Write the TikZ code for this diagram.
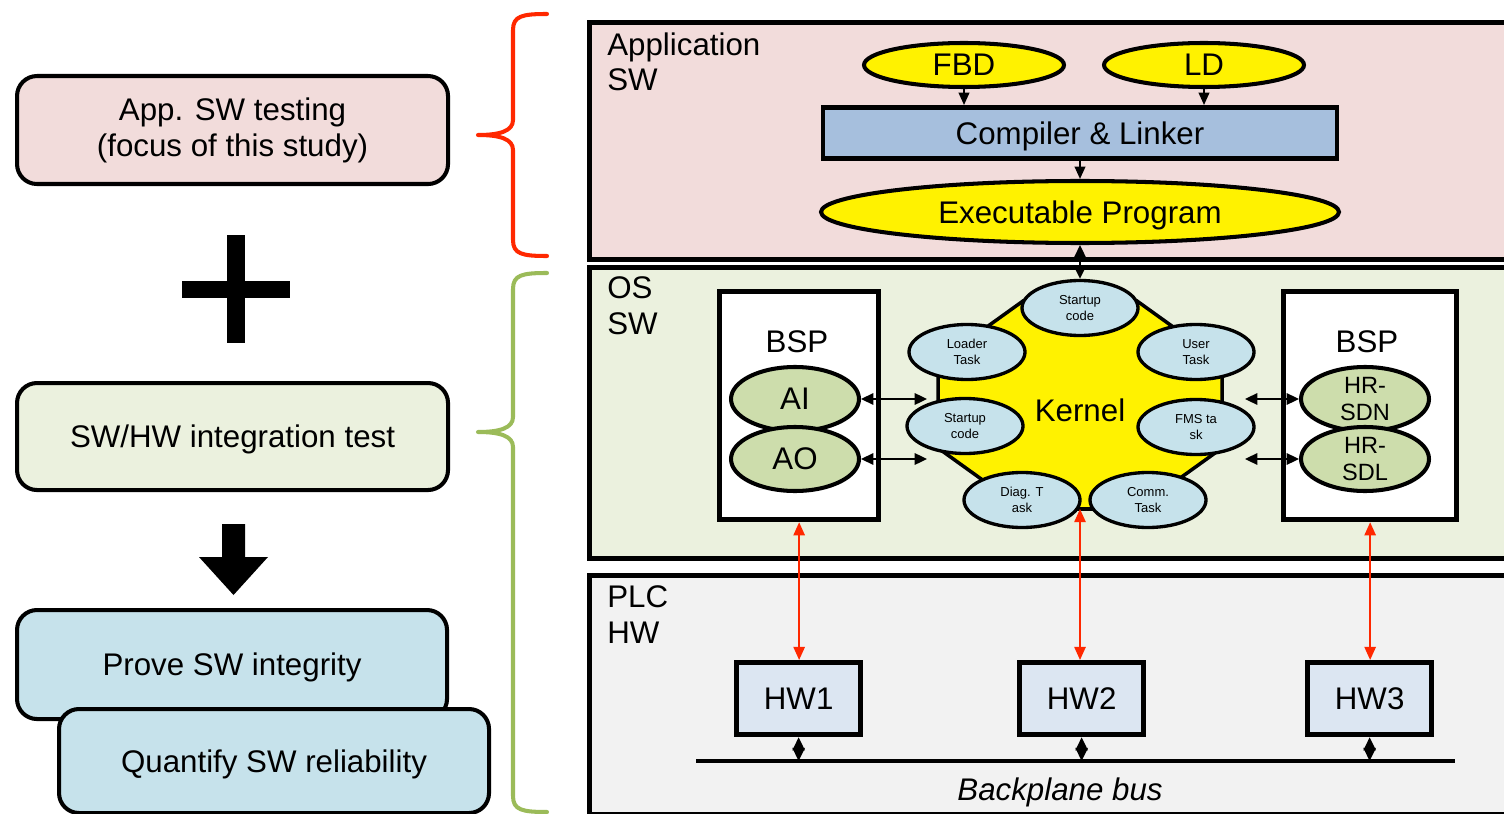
\documentclass[tikz,border=0pt]{standalone}
\usepackage{fontspec}
\setmainfont{Liberation Sans}
\usetikzlibrary{shapes.geometric,arrows.meta}

\definecolor{apppink}{RGB}{242,220,219}
\definecolor{osgreen}{RGB}{235,241,222}
\definecolor{hwgray}{RGB}{242,242,242}
\definecolor{taskblue}{RGB}{198,226,235}
\definecolor{compblue}{RGB}{166,191,221}
\definecolor{hwblue}{RGB}{220,230,242}
\definecolor{iogreen}{RGB}{205,221,172}
\definecolor{linkred}{RGB}{255,40,0}
\definecolor{bracegreen}{RGB}{155,187,89}

\newcommand\pxl{0.02cm}
\newcommand\lblfont{\fontsize{17.8}{20.4}\selectfont}
\newcommand\hrfont{\fontsize{13.4}{15.3}\selectfont}
\newcommand\taskfont{\fontsize{7.4}{9.1}\selectfont}

\begin{document}
\begin{tikzpicture}[x=0.02cm,y=-0.02cm,
  stepbox/.style={draw,line width=2.3pt,rounded corners=0.4cm,anchor=north west,
    inner sep=0pt,align=center,font=\lblfont},
  panel/.style={draw,line width=3pt,anchor=north west,inner sep=0pt},
  layertext/.style={anchor=north west,inner sep=0pt,align=left,font=\lblfont},
  yellowell/.style={ellipse,draw,fill=yellow,line width=2.3pt,inner sep=0pt,font=\lblfont,text depth=0pt},
  taskell/.style={ellipse,draw,fill=taskblue,line width=1.9pt,inner sep=0pt,
    minimum width=116*\pxl,minimum height=55*\pxl,align=center,font=\taskfont},
  ioell/.style={ellipse,draw,fill=iogreen,line width=2.3pt,inner sep=0pt,
    minimum width=128*\pxl,minimum height=64*\pxl,align=center},
  bspbox/.style={draw,fill=white,line width=3pt,anchor=north west,inner sep=0pt,
    minimum height=228*\pxl},
  hwbox/.style={draw,fill=hwblue,line width=3pt,anchor=north west,inner sep=0pt,
    minimum width=124*\pxl,minimum height=72*\pxl,font=\lblfont},
  flow/.style={-{Triangle[length=7pt,width=6pt]},line width=1.1pt},
  iolink/.style={{Triangle[length=7pt,width=6.5pt]}-{Triangle[length=7pt,width=6.5pt]},line width=1.1pt},
  hwlink/.style={{Triangle[length=7.5pt,width=6.5pt]}-{Triangle[length=7.5pt,width=6.5pt]},line width=0.9pt,linkred},
  buslink/.style={{Triangle[length=7.5pt,width=7pt]}-{Triangle[length=7.5pt,width=7pt]},line width=1.1pt},
  bracestroke/.style={line width=2.3pt,line cap=round,line join=round}]
   \useasboundingbox (0,0) rectangle (1504,814);
   \clip (0,0) rectangle (1504,814);
   % left column
   \node[stepbox,fill=apppink,minimum width=431*\pxl,minimum height=108*\pxl] (apptest) at (15,74) {App. SW testing\\(focus of this study)};
   \fill (182,281) rectangle (290,298);
   \fill (227,235) rectangle (245,343);
   \node[stepbox,fill=osgreen,minimum width=431*\pxl,minimum height=107*\pxl,text depth=0pt] (inttest) at (15,381) {SW/HW integration test};
   \fill (222,524) -- (245,524) -- (245,557) -- (268,557) -- (233.5,595) -- (199,557) -- (222,557) -- cycle;
   \node[stepbox,fill=taskblue,minimum width=430*\pxl,minimum height=109*\pxl,text depth=0pt] (prove) at (15,608) {Prove SW integrity};
   \node[stepbox,fill=taskblue,minimum width=430*\pxl,minimum height=104*\pxl,text depth=0pt] (quantify) at (57,707) {Quantify SW reliability};
   % braces
   \draw[bracestroke,linkred] (547,14) .. controls (522,14) and (513,16) .. (513,30) -- (513,120)
     .. controls (513,131) and (500,135) .. (478,135) .. controls (500,135) and (513,139) .. (513,150)
     -- (513,240) .. controls (513,254) and (522,256) .. (547,256);
   \draw[bracestroke,bracegreen] (547,273) .. controls (522,273) and (513,275) .. (513,289) -- (513,417)
     .. controls (513,428) and (500,432) .. (478,432) .. controls (500,432) and (513,436) .. (513,447)
     -- (513,796) .. controls (513,810) and (522,812) .. (547,812);
   % layers
   \node[panel,fill=apppink,minimum width=923*\pxl,minimum height=237*\pxl] (apppanel) at (587,20) {};
   \node[panel,fill=osgreen,minimum width=923*\pxl,minimum height=291*\pxl] (ospanel) at (587,265) {};
   \node[panel,fill=hwgray,minimum width=923*\pxl,minimum height=239*\pxl] (hwpanel) at (587,573) {};
   \node[layertext] (applabel) at (607,32) {Application\\SW};
   \node[layertext] (oslabel) at (607,276) {OS\\SW};
   \node[layertext] (plclabel) at (607,585) {PLC\\HW};
   % application SW
   \node[yellowell,minimum width=200*\pxl,minimum height=44*\pxl] (fbd) at (964,65) {FBD};
   \node[yellowell,minimum width=200*\pxl,minimum height=44*\pxl] (ld) at (1204,65) {LD};
   \node[draw,fill=compblue,line width=2.8pt,minimum width=514*\pxl,minimum height=51*\pxl,
     inner sep=0pt,font=\lblfont,text depth=0pt] (comp) at (1080,133) {Compiler \& Linker};
   \node[yellowell,minimum width=518*\pxl,minimum height=62*\pxl] (exe) at (1080,212) {Executable Program};
   \draw[flow] (fbd) -- (fbd |- comp.north);
   \draw[flow] (ld) -- (ld |- comp.north);
   \draw[flow] (comp) -- (exe);
   % OS SW
   \fill[yellow,draw=black,line width=2pt] (1023,301) -- (938,362) -- (938,448) -- (1023,509)
     -- (1137,509) -- (1222,448) -- (1222,362) -- (1137,301) -- cycle;
   \node[font=\lblfont,text depth=0pt] (kernel) at (1080,410) {Kernel};
   \coordinate (kbot) at (1080,509);
   \node[taskell] (st1) at (1080,308) {Startup\\code};
   \node[taskell] (loader) at (967,352) {Loader\\Task};
   \node[taskell] (user) at (1196,352) {User\\Task};
   \node[taskell] (st2) at (965,426) {Startup\\code};
   \node[taskell] (fms) at (1196,427) {FMS ta\\sk};
   \node[taskell] (diag) at (1022,500) {Diag. T\\ask};
   \node[taskell] (comm) at (1148,500) {Comm.\\Task};
   \draw[iolink] (exe) -- (st1);
   \node[bspbox,minimum width=159*\pxl] (lbsp) at (717,289) {};
   \node[font=\lblfont] (lbsptxt) at (797,342) {BSP};
   \node[ioell,font=\lblfont] (ai) at (795,399) {AI};
   \node[ioell,font=\lblfont] (ao) at (795,459) {AO};
   \coordinate (kai) at (927,399);
   \coordinate (kao) at (927,459);
   \draw[iolink] (ai) -- (kai);
   \draw[iolink] (ao) -- (kao);
   \node[bspbox,minimum width=173*\pxl] (rbsp) at (1281,289) {};
   \node[font=\lblfont] (rbsptxt) at (1367,342) {BSP};
   \node[ioell,font=\hrfont] (sdn) at (1365,399) {HR-\\SDN};
   \node[ioell,font=\hrfont] (sdl) at (1365,459) {HR-\\SDL};
   \coordinate (ksdn) at (1245,399);
   \coordinate (ksdl) at (1245,459);
   \draw[iolink] (ksdn) -- (sdn);
   \draw[iolink] (ksdl) -- (sdl);
   % PLC HW
   \node[hwbox] (hw1) at (734,660) {HW1};
   \node[hwbox] (hw2) at (1017,660) {HW2};
   \node[hwbox] (hw3) at (1305,660) {HW3};
   \draw[hwlink] (lbsp.south) -- (lbsp.south |- hw1.north);
   \draw[hwlink] (kbot) -- (kbot |- hw2.north);
   \draw[hwlink] (rbsp.south) -- (rbsp.south |- hw3.north);
   \coordinate (busl) at (696,761);
   \coordinate (busr) at (1455,761);
   \draw[line width=2.8pt] (busl) -- (busr);
   \draw[buslink] (hw1.south) -- (hw1.south |- busl);
   \draw[buslink] (hw2.south) -- (hw2.south |- busl);
   \draw[buslink] (hw3.south) -- (hw3.south |- busl);
   \node[font=\lblfont\itshape,text depth=0pt] (bustxt) at (1060,789) {Backplane bus};
  \end{tikzpicture}
\end{document}
